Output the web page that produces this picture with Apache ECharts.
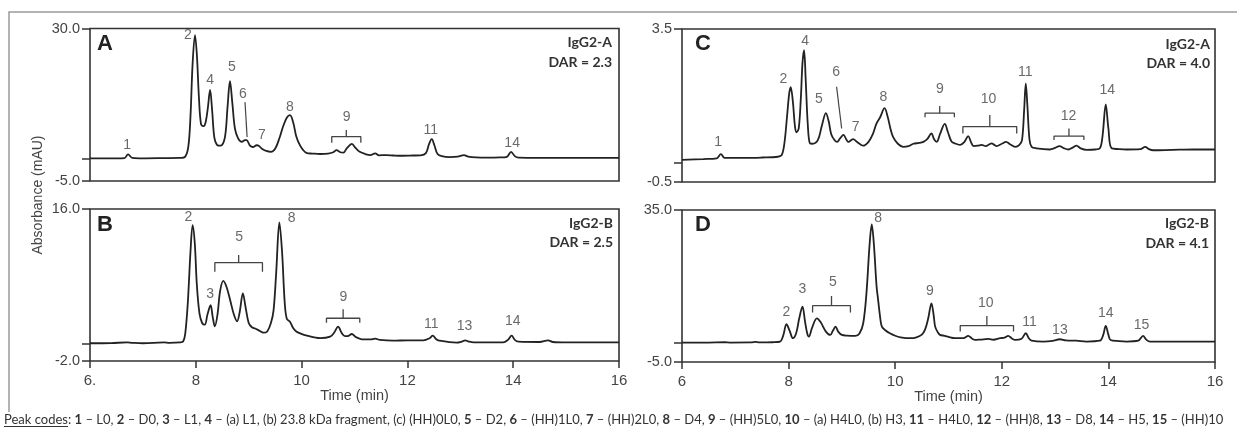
<!DOCTYPE html>
<html><head><meta charset="utf-8">
<script src="https://cdn.jsdelivr.net/npm/echarts@6/dist/echarts.min.js"></script>
<style>html,body{margin:0;padding:0;background:#fff}#c{width:1237px;height:429px}</style>
</head><body><div id="c"></div>
<script>
// ---------------- DATA ----------------
// Panel A : IgG2-A, DAR = 2.3
const timeA = [6.0,6.5,6.65,6.72,6.8,7.0,7.4,7.7,7.8,7.86,7.9,7.94,7.985,8.02,8.06,8.1,8.15,8.19,8.23,8.27,8.31,8.35,8.4,8.47,8.55,8.6,8.646,8.69,8.74,8.8,8.87,8.93,8.96,9.02,9.08,9.15,9.19,9.25,9.33,9.42,9.5,9.58,9.65,9.72,9.78,9.84,9.9,9.96,10.03,10.1,10.2,10.35,10.5,10.6,10.66,10.73,10.79,10.86,10.95,11.02,11.1,11.2,11.3,11.39,11.46,11.6,11.75,11.9,12.1,12.25,12.35,12.41,12.46,12.51,12.57,12.65,12.8,12.95,13.07,13.15,13.3,13.5,13.75,13.88,13.96,14.03,14.1,14.5,15.0,15.5,16.0];
const absA  = [0.2,0.2,0.25,1.1,0.3,0.2,0.25,0.3,0.6,3,10,22,28.5,24,14,8,7.6,8.7,12,15.9,11,5,3.3,3.1,5,12,17.9,13,7,4.8,4.0,4.4,4.4,3.2,2.8,3.2,3.1,2.4,1.9,1.7,2.4,4.8,7.5,9.5,10.1,8.5,5.2,3.4,2.1,1.4,1.3,1.2,1.3,1.6,2.1,1.6,1.5,2.6,3.5,2.6,1.7,1.2,0.95,1.35,0.9,0.95,0.85,0.8,0.85,0.9,1.4,3.5,4.6,3.2,1.2,0.7,0.5,0.6,0.95,0.6,0.4,0.35,0.4,0.55,1.7,0.7,0.35,0.3,0.3,0.3,0.3];
const peakTextA  = ['1','2','4','5','6','7','8','9','11','14'];
const peakTimeA  = [6.70,7.85,8.27,8.68,8.89,9.25,9.78,10.85,12.44,13.98];
const peakValueA = [3.3,28.5,18.2,21.2,15.0,5.6,12.0,9.7,6.7,3.7];
const bracketsA  = [[10.57,11.12,3.8,5.2,6.7]];          // [t1,t2,vEnd,vBar,vStem]
const pointersA  = [[8.93,13.1,8.97,5.1]];               // [t1,v1,t2,v2]

// Panel B : IgG2-B, DAR = 2.5
const timeB = [6.0,6.4,6.7,6.8,7.0,7.4,7.5,7.7,7.76,7.8,7.85,7.9,7.94,7.98,8.02,8.07,8.12,8.17,8.22,8.28,8.32,8.36,8.41,8.46,8.52,8.58,8.65,8.72,8.78,8.83,8.89,8.94,9.0,9.06,9.12,9.2,9.28,9.35,9.42,9.47,9.52,9.58,9.63,9.68,9.72,9.78,9.84,9.9,9.97,10.1,10.35,10.54,10.62,10.69,10.76,10.82,10.87,10.95,11.02,11.14,11.3,11.39,11.48,11.73,12.0,12.3,12.42,12.48,12.54,12.6,12.93,13.03,13.09,13.16,13.25,13.81,13.9,13.97,14.03,14.1,14.5,14.66,14.75,15.0,16.0];
const absB  = [0.1,0.12,0.2,0.15,0.1,0.2,0.15,0.2,0.3,1.2,5,11,14.1,12,7,3.6,2.5,2.3,3.5,4.6,3.2,2.1,3.5,6.3,7.5,6.8,5.2,3.5,2.7,3.8,6.0,4.4,2.5,2.0,1.85,1.6,1.35,1.5,2.5,4.0,8.5,14.4,11,5,3.0,2.66,1.9,1.5,1.28,1.0,0.7,0.88,1.4,2.07,1.3,0.95,0.95,1.2,0.85,0.57,0.55,0.65,0.5,0.41,0.45,0.45,0.7,1.0,0.6,0.41,0.17,0.3,0.45,0.3,0.2,0.2,0.5,1.0,0.5,0.29,0.25,0.45,0.25,0.2,0.2];
const peakTextB  = ['2','3','5','8','9','11','13','14'];
const peakTimeB  = [7.86,8.27,8.82,9.81,10.79,12.45,13.08,13.99];
const peakValueB = [15.0,5.9,12.65,14.9,5.55,2.38,2.07,2.74];
const bracketsB  = [[8.36,9.26,8.58,9.64,10.55],[10.47,11.10,2.54,3.06,4.12]];
const pointersB  = [];

// Panel C : IgG2-A, DAR = 4.0
const timeC = [6.0,6.4,6.65,6.73,6.8,7.2,7.5,7.8,7.87,7.92,7.97,8.01,8.04,8.08,8.12,8.15,8.19,8.23,8.26,8.29,8.32,8.36,8.40,8.45,8.55,8.62,8.70,8.75,8.80,8.86,8.91,8.97,9.03,9.08,9.12,9.16,9.21,9.28,9.35,9.40,9.5,9.58,9.65,9.72,9.80,9.86,9.91,9.96,10.05,10.15,10.25,10.34,10.45,10.53,10.6,10.68,10.73,10.78,10.84,10.93,10.99,11.06,11.14,11.22,11.3,11.37,11.42,11.47,11.55,11.62,11.7,11.76,11.81,11.86,11.9,12.0,12.08,12.16,12.25,12.33,12.38,12.42,12.45,12.48,12.52,12.56,12.65,12.9,13.0,13.08,13.17,13.25,13.33,13.40,13.48,13.59,13.75,13.84,13.89,13.95,14.0,14.06,14.2,14.34,14.6,14.69,14.76,14.84,15.2,15.6,16.0];
const absC  = [0.08,0.1,0.12,0.23,0.13,0.13,0.14,0.16,0.2,0.5,1.2,1.8,1.98,1.6,0.95,0.8,0.9,1.7,2.6,2.95,2.2,1.0,0.51,0.5,0.6,0.95,1.30,1.1,0.75,0.6,0.55,0.65,0.73,0.62,0.55,0.58,0.62,0.55,0.48,0.45,0.55,0.75,1.03,1.2,1.43,1.2,0.9,0.68,0.5,0.42,0.44,0.5,0.52,0.55,0.62,0.77,0.62,0.55,0.75,1.02,0.8,0.55,0.5,0.47,0.55,0.70,0.55,0.44,0.45,0.47,0.44,0.48,0.51,0.47,0.44,0.5,0.55,0.48,0.42,0.47,0.6,1.4,2.08,1.5,0.6,0.42,0.38,0.35,0.39,0.44,0.38,0.35,0.4,0.45,0.38,0.34,0.35,0.38,0.7,1.53,0.9,0.38,0.36,0.35,0.36,0.42,0.36,0.33,0.34,0.35,0.35];
const peakTextC  = ['1','2','4','5','6','7','8','9','10','11','12','14'];
const peakTimeC  = [6.68,7.90,8.31,8.57,8.89,9.26,9.78,10.84,11.75,12.44,13.25,13.98];
const peakValueC = [0.55,2.19,3.19,1.67,2.38,0.93,1.73,1.92,1.66,2.38,1.21,1.91];
const bracketsC  = [[10.56,11.11,1.19,1.30,1.49],[11.27,12.28,0.77,0.95,1.25],[12.98,13.54,0.60,0.70,0.90]];
const pointersC  = [[8.90,1.99,8.996,0.90]];

// Panel D : IgG2-B, DAR = 4.1
const timeD = [6.0,6.5,6.8,6.9,7.3,7.38,7.45,7.7,7.84,7.9,7.96,8.02,8.08,8.14,8.2,8.26,8.31,8.35,8.38,8.44,8.53,8.6,8.7,8.78,8.83,8.88,8.93,9.0,9.1,9.25,9.33,9.40,9.46,9.52,9.56,9.6,9.65,9.68,9.72,9.75,9.82,9.90,10.0,10.1,10.28,10.4,10.5,10.56,10.62,10.68,10.72,10.75,10.8,10.84,10.93,11.0,11.12,11.28,11.37,11.44,11.50,11.6,11.75,11.84,11.97,12.05,12.12,12.19,12.25,12.37,12.45,12.51,12.56,12.78,12.95,13.09,13.2,13.4,13.59,13.84,13.9,13.95,14.0,14.04,14.2,14.34,14.56,14.65,14.71,14.78,15.2,15.6,16.0];
const absD  = [0.1,0.12,0.2,0.12,0.15,0.3,0.15,0.2,0.36,2.0,4.93,3.2,1.26,2.5,6.5,9.57,5.5,2.5,1.69,4.0,6.5,5.5,3.0,2.13,3.2,4.3,3.0,2.13,1.95,1.9,2.5,5.2,13,26,31.2,26,15,11.3,6.5,4.3,3.3,2.56,1.9,1.5,1.26,1.5,2.2,3.5,6.5,10.45,7.5,4.3,2.8,2.13,1.9,1.6,1.26,1.26,1.86,1.2,0.81,0.9,1.07,0.85,1.26,1.4,1.86,1.2,0.81,1.1,2.56,1.2,0.64,0.38,0.55,0.99,0.7,0.6,0.38,0.6,2.0,4.5,2.2,0.81,0.5,0.38,0.6,1.86,0.9,0.38,0.38,0.38,0.38];
const peakTextD  = ['2','3','5','8','9','10','11','13','14','15'];
const peakTimeD  = [7.96,8.26,8.83,9.68,10.65,11.70,12.52,13.09,13.95,14.62];
const peakValueD = [8.25,14.1,15.9,32.8,13.7,10.6,5.46,3.44,7.83,4.75];
const bracketsD  = [[8.45,9.16,8.0,9.83,12.4],[11.22,12.22,3.0,4.57,7.1]];
const pointersD  = [];

// Axis ranges and tick labels
const xTicks = [6,8,10,12,14,16];
const xTickLabelsB = ['6.','8','10','12','14','16'];
const xTickLabelsD = ['6','8','10','12','14','16'];
const yRangeA = [-5, 30], yRangeB = [-2, 16], yRangeC = [-0.5, 3.5], yRangeD = [-5, 35];
const panelLetters = ['A','B','C','D'];
const sampleNames = ['IgG2-A','IgG2-B','IgG2-A','IgG2-B'];
const darTexts = ['DAR = 2.3','DAR = 2.5','DAR = 4.0','DAR = 4.1'];
const xTitle = 'Time (min)';
const yTitle = 'Absorbance (mAU)';
const peakCodeNums  = ['1','2','3','4','5','6','7','8','9','10','11','12','13','14','15'];
const peakCodeDescs = ['L0','D0','L1','(a) L1, (b) 23.8 kDa fragment, (c) (HH)0L0','D2','(HH)1L0','(HH)2L0','D4','(HH)5L0','(a) H4L0, (b) H3','H4L0','(HH)8','D8','H5','(HH)10'];

// ---------------- LAYOUT / STYLE ----------------
const NUM_FONT = '"Liberation Sans", Arial, sans-serif';
const TXT_FONT = 'Lato, "Open Sans", sans-serif';
const panels = [
  {grid:{left:90, top:28.5, width:529, height:152.5}, yr:yRangeA, t:timeA, v:absA, pt:peakTextA, ptm:peakTimeA, pv:peakValueA, br:bracketsA, po:pointersA, xLabels:null},
  {grid:{left:90, top:209, width:529, height:152}, yr:yRangeB, t:timeB, v:absB, pt:peakTextB, ptm:peakTimeB, pv:peakValueB, br:bracketsB, po:pointersB, xLabels:xTickLabelsB},
  {grid:{left:682, top:29, width:533, height:153}, yr:yRangeC, t:timeC, v:absC, pt:peakTextC, ptm:peakTimeC, pv:peakValueC, br:bracketsC, po:pointersC, xLabels:null},
  {grid:{left:682, top:210, width:533, height:152}, yr:yRangeD, t:timeD, v:absD, pt:peakTextD, ptm:peakTimeD, pv:peakValueD, br:bracketsD, po:pointersD, xLabels:xTickLabelsD}
];

const grids = [], xAxes = [], yAxes = [], series = [];
panels.forEach((p, i) => {
  grids.push(Object.assign({show:true, borderColor:'#333', borderWidth:1.6, backgroundColor:'transparent'}, p.grid));
  const hasX = !!p.xLabels;
  xAxes.push({
    type:'value', gridIndex:i, min:6, max:16,
    axisLine:{show:false, onZero:false}, splitLine:{show:false},
    axisTick:{show:hasX, customValues:xTicks, length:7, lineStyle:{color:'#333', width:1.5}},
    axisLabel:{show:hasX, customValues:xTicks, margin:12, fontSize:15, fontFamily:NUM_FONT, color:'#444',
      formatter:(val) => hasX ? p.xLabels[xTicks.indexOf(val)] : ''},
    name: hasX ? xTitle : '', nameLocation:'middle', nameGap:26,
    nameTextStyle:{fontSize:14.5, fontFamily:NUM_FONT, color:'#444'}
  });
  yAxes.push({
    type:'value', gridIndex:i, min:p.yr[0], max:p.yr[1],
    axisLine:{show:false, onZero:false}, splitLine:{show:false},
    axisTick:{show:true, customValues:[p.yr[0],0,p.yr[1]], length:8, lineStyle:{color:'#333', width:1.5}},
    axisLabel:{show:true, customValues:[p.yr[0],p.yr[1]], margin:10, fontSize:14.5, fontFamily:NUM_FONT, color:'#444',
      formatter:(val) => val.toFixed(1)}
  });
  series.push({
    type:'line', xAxisIndex:i, yAxisIndex:i, data:p.t.map((t,k)=>[t,p.v[k]]),
    showSymbol:false, smooth:0.35, lineStyle:{color:'#222', width:1.8}, silent:true, z:3
  });
  series.push({
    type:'scatter', xAxisIndex:i, yAxisIndex:i, symbolSize:1, itemStyle:{color:'transparent'},
    data:p.pt.map((s,k)=>({name:s, value:[p.ptm[k], p.pv[k]]})),
    label:{show:true, position:'inside', formatter:'{b}', fontSize:14, fontFamily:NUM_FONT, color:'#444'}, z:4
  });
  p.br.forEach(b => {
    const [t1,t2,ve,vb,vs] = b, tm = (t1+t2)/2;
    series.push({type:'line', xAxisIndex:i, yAxisIndex:i, showSymbol:false, silent:true,
      data:[[t1,ve],[t1,vb],[t2,vb],[t2,ve]], lineStyle:{color:'#444', width:1.3}});
    series.push({type:'line', xAxisIndex:i, yAxisIndex:i, showSymbol:false, silent:true,
      data:[[tm,vb],[tm,vs]], lineStyle:{color:'#444', width:1.3}});
  });
  p.po.forEach(q => {
    series.push({type:'line', xAxisIndex:i, yAxisIndex:i, showSymbol:false, silent:true,
      data:[[q[0],q[1]],[q[2],q[3]]], lineStyle:{color:'#444', width:1.2}});
  });
});

// footer text sizing
const footerParts = peakCodeNums.map((n,k)=>`{b|${n}} – ${peakCodeDescs[k]}`).join(', ');
const meas = document.createElement('canvas').getContext('2d');
function widthAt(fs){
  let w = 0;
  meas.font = `${fs}px ${TXT_FONT}`;
  w += meas.measureText('Peak codes: ').width;
  peakCodeNums.forEach((n,k)=>{
    meas.font = `bold ${fs}px ${TXT_FONT}`; w += meas.measureText(n).width;
    meas.font = `${fs}px ${TXT_FONT}`; w += meas.measureText(' – ' + peakCodeDescs[k] + (k<peakCodeNums.length-1?', ':'')).width;
  });
  return w;
}
const footerFs = Math.min(13, 12 * 1228 / widthAt(12));
meas.font = `${footerFs}px ${TXT_FONT}`;
const pcW = meas.measureText('Peak codes').width;

const graphics = [
  {type:'polyline', shape:{points:[[9,412],[9,12],[1237,12]]}, style:{stroke:'#9a9a9a', lineWidth:1.5, fill:null}, silent:true},
  {type:'text', x:38, y:195, rotation:Math.PI/2, style:{text:yTitle, font:`14px ${NUM_FONT}`, fill:'#444', textAlign:'center', textVerticalAlign:'middle'}},
  {type:'text', x:4, y:420, style:{text:'Peak codes: ' + footerParts, font:`${footerFs}px ${TXT_FONT}`, fill:'#333', textVerticalAlign:'middle',
     rich:{b:{fontWeight:'bold', fontSize:footerFs, fontFamily:TXT_FONT, fill:'#333'}}}},
  {type:'line', shape:{x1:4, y1:426.5, x2:4+pcW, y2:426.5}, style:{stroke:'#333', lineWidth:1}}
];
const letterPos = [[97,32.5],[97,213.5],[695,33],[695,213.5]];
const namePos = [[612,42,62],[613,223,242],[1210,44,63],[1209,223,243]];
panels.forEach((p,i)=>{
  graphics.push({type:'text', x:letterPos[i][0], y:letterPos[i][1], style:{text:panelLetters[i], font:`bold 22px ${NUM_FONT}`, fill:'#222', textVerticalAlign:'top'}});
  graphics.push({type:'text', x:namePos[i][0], y:namePos[i][1], style:{text:sampleNames[i], font:`bold 14px ${TXT_FONT}`, fill:'#333', textAlign:'right', textVerticalAlign:'middle'}});
  graphics.push({type:'text', x:namePos[i][0], y:namePos[i][2], style:{text:darTexts[i], font:`bold 14px ${TXT_FONT}`, fill:'#333', textAlign:'right', textVerticalAlign:'middle'}});
});

const chart = echarts.init(document.getElementById('c'), null, {renderer:'canvas'});
chart.setOption({
  animation:false, backgroundColor:'#fff',
  grid:grids, xAxis:xAxes, yAxis:yAxes, series:series, graphic:graphics
});
</script></body></html>
